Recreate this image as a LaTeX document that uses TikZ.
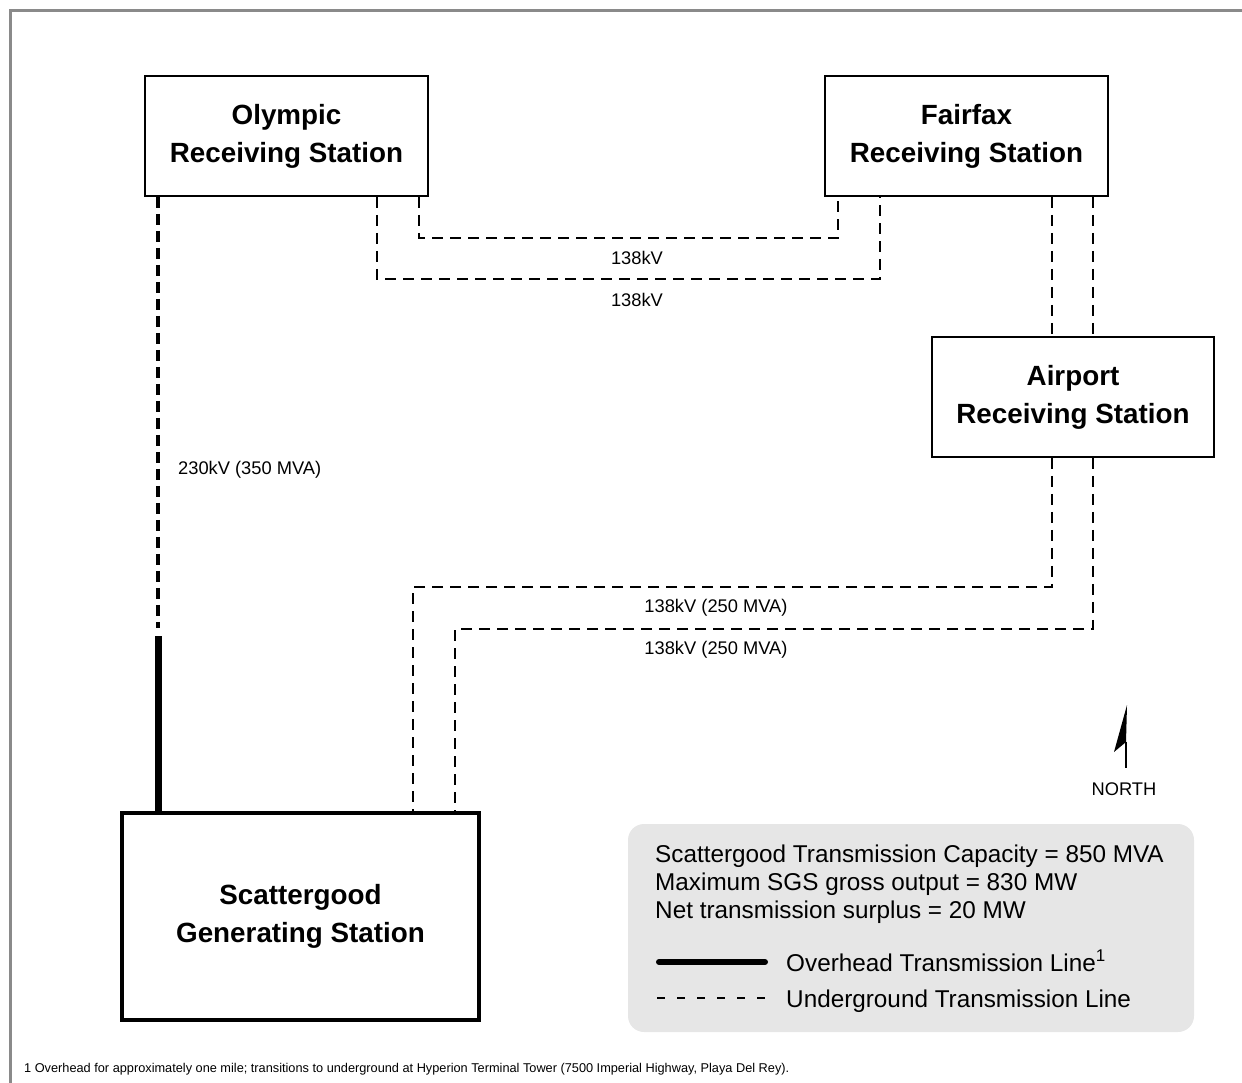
\documentclass[tikz,border=0pt]{standalone}
\usepackage{fontspec}
\setmainfont{Liberation Sans}
\definecolor{framegray}{RGB}{138,138,138}
\definecolor{legendgray}{RGB}{230,230,230}
\begin{document}
\begin{tikzpicture}[x=1pt,y=-1pt,
  station/.style={draw, line width=1.8pt, align=center, font=\fontsize{27.8}{38}\selectfont\bfseries, inner sep=0pt},
  ug/.style={line width=1.6pt, dash pattern=on 11pt off 7pt},
  ugthick/.style={line width=3.5pt, dash pattern=on 11pt off 6pt},
  oh/.style={line width=7pt},
  lbl/.style={font=\fontsize{18.3}{22}\selectfont, anchor=base, inner sep=0pt},
  legtext/.style={font=\fontsize{24.3}{29}\selectfont, anchor=base west, inner sep=0pt}]
\useasboundingbox (0,0) rectangle (1242,1083);
\draw[framegray, line width=3pt] (10.5,1083) -- (10.5,10.5) -- (1242,10.5);

% stations
\node[station, minimum width=283pt, minimum height=120pt] (olympic) at (286.5,136) {Olympic\\Receiving Station};
\node[station, minimum width=283pt, minimum height=120pt] (fairfax) at (966.5,136) {Fairfax\\Receiving Station};
\node[station, minimum width=282pt, minimum height=120pt] (airport) at (1073,397) {Airport\\Receiving Station};
\node[station, line width=3.5pt, minimum width=357pt, minimum height=207pt] (scatter) at (300.5,916.5) {Scattergood\\Generating Station};

% Olympic - Fairfax
\draw[ug] ([xshift=275]olympic.south west) -- ++(0,41) -| ([xshift=14]fairfax.south west);
\draw[ug] ([xshift=233]olympic.south west) -- ++(0,82) -| ([xshift=56]fairfax.south west);
\node[lbl] (l1) at (637,265) {138kV};
\node[lbl] (l2) at (637,307) {138kV};

% Fairfax - Airport
\draw[ug] ([xshift=228]fairfax.south west) -- ([xshift=121]airport.north west);
\draw[ug] ([xshift=269]fairfax.south west) -- ([xshift=162]airport.north west);

% Airport - Scattergood
\draw[ug] ([xshift=121]airport.south west) -- ++(0,129) -| ([xshift=293]scatter.north west);
\draw[ug] ([xshift=162]airport.south west) -- ++(0,171) -| ([xshift=335]scatter.north west);
\node[lbl] (l3) at (716,612) {138kV (250 MVA)};
\node[lbl] (l4) at (716,654) {138kV (250 MVA)};

% Olympic - Scattergood 230kV
\coordinate (trans) at (158,632);
\draw[ugthick, shorten >=4pt] (trans |- olympic.south) -- (trans);
\draw[oh, shorten <=4pt] (trans) -- (trans |- scatter.north);
\node[lbl, anchor=base west] (l5) at (178,474) {230kV (350 MVA)};

% North arrow
\coordinate (nbase) at (1126,768);
\coordinate (nmid) at (1126,742);
\fill (1127,705) -- (1114,752) -- (nmid) -- cycle;
\draw[line width=2.5pt] (nmid) -- (nbase);
\node[lbl] (north) at (1124,795) {NORTH};

% Legend
\node[fill=legendgray, rounded corners=16pt, minimum width=566pt, minimum height=208pt, inner sep=0pt] (legend) at (911,928) {};
\node[legtext] (t1) at (655,862) {Scattergood Transmission Capacity = 850 MVA};
\node[legtext] (t2) at (655,890) {Maximum SGS gross output = 830 MW};
\node[legtext] (t3) at (655,918) {Net transmission surplus = 20 MW};
\coordinate (ohA) at (659,962);
\coordinate (ohB) at (765,962);
\draw[line width=6pt, line cap=round] (ohA) -- (ohB);
\node[legtext] (t4) at (786,971) {Overhead Transmission Line\textsuperscript{1}};
\coordinate (ugA) at (657,998);
\coordinate (ugB) at (769,998);
\draw[line width=1.5pt, dash pattern=on 8pt off 12pt] (ugA) -- (ugB);
\node[legtext] (t5) at (786,1007) {Underground Transmission Line};

% Footnote
\node[font=\fontsize{12.75}{15}\selectfont, anchor=base west, inner sep=0pt] (foot) at (24,1072) {1 Overhead for approximately one mile; transitions to underground at Hyperion Terminal Tower (7500 Imperial Highway, Playa Del Rey).};
\end{tikzpicture}
\end{document}
